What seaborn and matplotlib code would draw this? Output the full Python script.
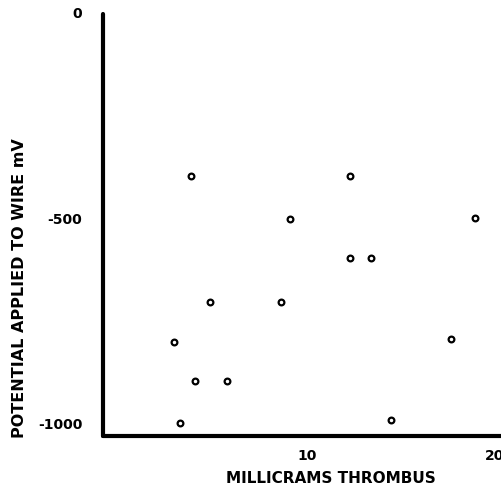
import matplotlib
matplotlib.use("Agg")
import matplotlib.pyplot as plt
import seaborn as sns
import pandas as pd

# values
thrombus_mg = [3.8, 12.3, 9.1, 12.3, 13.4, 4.8, 8.6, 2.9, 17.7, 4.0, 5.7, 3.2, 14.5, 19.0]
potential_mv = [-400, -400, -505, -598, -598, -705, -705, -803, -797, -897, -897, -1000, -992, -502]
y_ticks = [0, -500, -1000]
y_tick_labels = ["0", "-500", "-1000"]
x_ticks = [10, 20]
x_tick_labels = ["10", "20"]

df = pd.DataFrame({"mg": thrombus_mg, "mv": potential_mv})

sns.set_style("white")
plt.rcParams['font.family'] = ['DejaVu Sans']
plt.rcParams['axes.unicode_minus'] = False
plt.rcParams['text.color'] = 'black'
plt.rcParams['axes.labelcolor'] = 'black'
plt.rcParams['xtick.color'] = 'black'
plt.rcParams['ytick.color'] = 'black'

fig = plt.figure(figsize=(5.01, 4.89), dpi=100)
ax = fig.add_axes([103 / 501, 1 - 437 / 489, 398 / 501, 432 / 489])

sns.scatterplot(data=df, x="mg", y="mv", ax=ax, marker="o", s=17,
                facecolor="white", edgecolor="black", linewidth=1.6, zorder=3)

ax.set_xlim(-0.91, 20.37)
ax.set_ylim(-1032, 19)

for side in ["top", "right"]:
    ax.spines[side].set_visible(False)
for side in ["left", "bottom"]:
    ax.spines[side].set_linewidth(3)
    ax.spines[side].set_color("black")
    ax.spines[side].set_capstyle("round")
ax.spines["left"].set_bounds(-1032, -5)

ax.set_yticks(y_ticks)
ax.set_yticklabels(y_tick_labels, fontsize=10, fontweight="bold")
ax.set_xticks(x_ticks)
ax.set_xticklabels(x_tick_labels, fontsize=10, fontweight="bold")
ax.tick_params(axis="y", length=0, pad=15)
ax.tick_params(axis="x", length=0, pad=9)

ax.set_xlabel("MILLICRAMS THROMBUS", fontsize=11, fontweight="bold")
ax.set_ylabel("POTENTIAL APPLIED TO WIRE mV", fontsize=11.5, fontweight="bold")
ax.xaxis.set_label_coords(0.573, -0.078)
ax.yaxis.set_label_coords(-0.19, 0.345)

fig.savefig("out.png", dpi=100)
